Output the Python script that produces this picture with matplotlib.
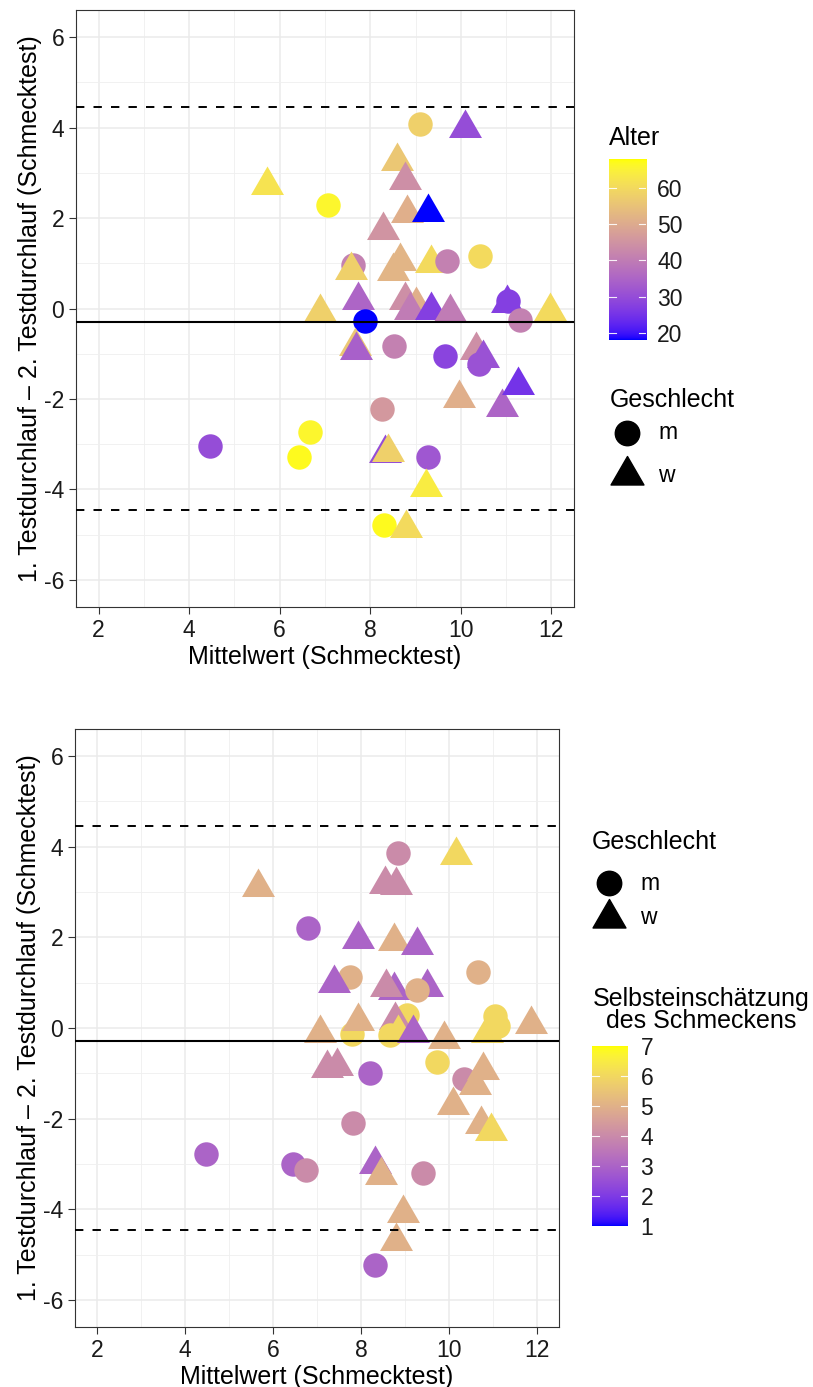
import numpy as np
import matplotlib
matplotlib.use("Agg")
import matplotlib.pyplot as plt
from matplotlib.colors import ListedColormap, Normalize
from matplotlib.markers import MarkerStyle
from matplotlib.path import Path
from matplotlib.lines import Line2D

plt.rcParams['font.family'] = ['Liberation Sans', 'DejaVu Sans']
plt.rcParams['axes.unicode_minus'] = False

# ---- data: panel 1 (Alter) ----
top_x = [7.07, 9.09, 5.72, 10.09, 8.60, 8.76, 8.82, 9.28, 8.29, 8.65, 8.51, 9.35,
         9.70, 10.42, 7.62, 7.58, 7.73, 6.90, 7.88, 8.76, 9.02, 8.87, 9.35, 9.76,
         11.03, 11.05, 11.30, 11.97, 7.66, 7.69, 8.53, 9.64, 10.34, 10.40, 10.50,
         9.95, 10.92, 11.26, 8.27, 6.66, 6.42, 4.45, 8.33, 8.39, 9.27, 9.23, 8.30, 8.78]
top_y = [2.28, 4.09, 2.72, 3.98, 3.27, 2.85, 2.11, 2.14, 1.74, 1.06, 0.82, 1.00,
         1.06, 1.17, 0.97, 0.85, 0.19, -0.07, -0.27, 0.19, 0.08, -0.03, -0.03, -0.07,
         0.12, 0.17, -0.26, -0.05, -0.84, -0.92, -0.84, -1.04, -0.92, -1.22, -1.10,
         -1.98, -2.17, -1.69, -2.22, -2.72, -3.29, -3.05, -3.20, -3.17, -3.29, -3.94, -4.78, -4.86]
top_age = [66, 58, 62, 30, 56, 44, 51, 18, 45, 52, 52, 60,
           41, 60, 41, 58, 35, 58, 18, 44, 51, 40, 27, 40,
           27, 27, 41, 60, 56, 34, 41, 28, 44, 31, 31,
           51, 35, 25, 46, 66, 67, 30, 30, 58, 32, 64, 67, 60]
top_sex = ['m', 'm', 'w', 'w', 'w', 'w', 'w', 'w', 'w', 'w', 'w', 'w',
           'm', 'm', 'm', 'w', 'w', 'w', 'm', 'w', 'w', 'w', 'w', 'w',
           'w', 'm', 'm', 'w', 'w', 'w', 'm', 'm', 'w', 'm', 'w',
           'w', 'w', 'w', 'm', 'm', 'm', 'm', 'w', 'w', 'm', 'w', 'm', 'w']

# ---- data: panel 2 (Selbsteinschaetzung) ----
bot_x = [5.67, 8.85, 8.55, 8.79, 10.16, 6.79, 7.94, 8.76, 9.27, 7.75, 7.38, 8.74,
         8.57, 9.50, 9.27, 10.67, 7.79, 7.07, 7.94, 9.04, 8.78, 8.66, 8.85, 9.19,
         9.88, 11.05, 11.12, 10.86, 11.86, 9.72, 7.22, 7.45, 8.21, 10.33, 10.77,
         10.60, 10.10, 10.73, 10.95, 7.82, 4.48, 6.45, 6.74, 8.32, 8.45, 9.41,
         8.96, 8.80, 8.32]
bot_y = [3.11, 3.87, 3.18, 3.15, 3.81, 2.20, 1.97, 1.92, 1.83, 1.12, 1.00, 0.84,
         0.90, 0.90, 0.84, 1.23, -0.13, -0.11, 0.16, 0.29, 0.17, -0.15, -0.12, -0.12,
         -0.25, 0.27, 0.05, -0.12, 0.08, -0.74, -0.89, -0.84, -1.00, -1.13, -0.92,
         -1.26, -1.69, -2.13, -2.27, -2.10, -2.78, -3.00, -3.14, -3.00, -3.24, -3.20,
         -4.09, -4.70, -5.23]
bot_rating = [5, 4, 4, 4, 6, 3, 3, 5, 3, 5, 3, 3,
              4, 3, 5, 5, 6, 5, 5, 6, 4, 6, 6, 3,
              5, 6, 6, 6, 5, 6, 4, 4, 3, 4, 5,
              5, 5, 5, 6, 4, 3, 3, 4, 3, 5, 4,
              5, 5, 3]
bot_sex = ['w', 'm', 'w', 'w', 'w', 'm', 'w', 'w', 'w', 'm', 'w', 'w',
           'w', 'w', 'm', 'm', 'm', 'w', 'w', 'm', 'w', 'm', 'w', 'w',
           'w', 'm', 'm', 'w', 'w', 'm', 'w', 'w', 'm', 'm', 'w',
           'w', 'w', 'w', 'w', 'm', 'm', 'm', 'm', 'w', 'w', 'm',
           'w', 'w', 'm']

mean_diff = -0.29
loa = [4.45, -4.45]


# blue -> yellow gradient interpolated in CIELAB (like ggplot's scale_colour_gradient)
def srgb_to_lab(c):
    c = np.asarray(c, float)
    lin = np.where(c <= 0.04045, c / 12.92, ((c + 0.055) / 1.055) ** 2.4)
    M = np.array([[0.4124, 0.3576, 0.1805], [0.2126, 0.7152, 0.0722], [0.0193, 0.1192, 0.9505]])
    xyz = M @ lin / np.array([0.95047, 1.0, 1.08883])
    f = np.where(xyz > 0.008856, np.cbrt(xyz), 7.787 * xyz + 16 / 116)
    return np.array([116 * f[1] - 16, 500 * (f[0] - f[1]), 200 * (f[1] - f[2])])


def lab_to_srgb(lab):
    L, a, b = lab
    fy = (L + 16) / 116
    fx = fy + a / 500
    fz = fy - b / 200
    f = np.array([fx, fy, fz])
    xyz = np.where(f ** 3 > 0.008856, f ** 3, (f - 16 / 116) / 7.787) * np.array([0.95047, 1.0, 1.08883])
    Mi = np.array([[3.2406, -1.5372, -0.4986], [-0.9689, 1.8758, 0.0415], [0.0557, -0.2040, 1.0570]])
    lin = Mi @ xyz
    c = np.where(lin <= 0.0031308, 12.92 * lin, 1.055 * np.clip(lin, 0, None) ** (1 / 2.4) - 0.055)
    return np.clip(c, 0, 1)


lab_lo = srgb_to_lab([0, 0, 1])
lab_hi = srgb_to_lab([1, 1, 0])
cmap = ListedColormap([lab_to_srgb(lab_lo + t * (lab_hi - lab_lo)) for t in np.linspace(0, 1, 256)])

# R-style triangle (pch 17), centred on its centroid
tri_path = Path([(0, 1.5551), (1.3468, -0.7776), (-1.3468, -0.7776), (0, 1.5551)],
                [Path.MOVETO, Path.LINETO, Path.LINETO, Path.CLOSEPOLY])
tri = MarkerStyle(tri_path)
CIRC_MS = 17.6
TRI_MS = CIRC_MS * 1.555
shapes = {'m': ('o', CIRC_MS ** 2), 'w': (tri, TRI_MS ** 2)}

W, H = 813, 1387
fig = plt.figure(figsize=(W / 100, H / 100), dpi=100)


def fx(px):
    return px / W


def fy(py):
    return 1 - py / H


def panel(rect, xs, ys, cs, sexes, norm):
    ax = fig.add_axes(rect)
    ax.set_xlim(1.5, 12.5)
    ax.set_ylim(-6.6, 6.6)
    ax.set_xticks(range(2, 13, 2))
    ax.set_yticks(range(-6, 7, 2))
    ax.set_xticks(range(3, 13, 2), minor=True)
    ax.set_yticks(range(-5, 7, 2), minor=True)
    ax.grid(which='major', color='#EBEBEB', lw=1.1, zorder=0)
    ax.grid(which='minor', color='#EFEFEF', lw=0.6, zorder=0)
    ax.set_axisbelow(True)
    ax.tick_params(which='minor', length=0)
    ax.tick_params(which='major', length=5, width=0.8, color='#333333',
                   labelsize=16.5, labelcolor='#1a1a1a', pad=3.5)
    for sp in ax.spines.values():
        sp.set_color('#333333')
        sp.set_linewidth(0.8)
    for i, (x, y, c, s) in enumerate(zip(xs, ys, cs, sexes)):
        m, size = shapes[s]
        ax.scatter([x], [y], c=[c], cmap=cmap, norm=norm, marker=m, s=size,
                   linewidths=0, zorder=3 + i * 0.01)
    ax.axhline(mean_diff, color='black', lw=1.5, zorder=4)
    for v in loa:
        ax.axhline(v, color='black', lw=1.4, dashes=(4.3, 4.7), zorder=4)
    ax.set_xlabel('Mittelwert (Schmecktest)', fontsize=18, labelpad=2)
    ax.set_ylabel('1. Testdurchlauf – 2. Testdurchlauf (Schmecktest)', fontsize=18, labelpad=1)
    return ax


norm_age = Normalize(18, 68)
norm_rating = Normalize(1, 7)

panel([fx(76), fy(607), fx(498), 597 / H], top_x, top_y, top_age, top_sex, norm_age)
panel([fx(75), fy(1327), fx(484), 598 / H], bot_x, bot_y, bot_rating, bot_sex, norm_rating)


def colorbar(rect, norm, ticks, pad):
    cax = fig.add_axes(rect)
    grad = np.linspace(norm.vmin, norm.vmax, 256).reshape(-1, 1)
    cax.imshow(grad, cmap=cmap, norm=norm, aspect='auto', origin='lower',
               extent=[0, 1, norm.vmin, norm.vmax])
    for t in ticks:
        if norm.vmin < t < norm.vmax:
            cax.plot([0, 0.2], [t, t], color='white', lw=0.8, alpha=0.9)
            cax.plot([0.8, 1], [t, t], color='white', lw=0.8, alpha=0.9)
    cax.set_xlim(0, 1)
    cax.set_ylim(norm.vmin, norm.vmax)
    cax.set_xticks([])
    cax.yaxis.tick_right()
    cax.set_yticks(ticks)
    cax.tick_params(axis='y', length=0, labelsize=16.5, pad=pad, labelcolor='#1a1a1a')
    for sp in cax.spines.values():
        sp.set_visible(False)
    return cax


def shape_legend(title_xy, circ_xy, tri_xy, text_x):
    fig.text(fx(title_xy[0]), fy(title_xy[1]), 'Geschlecht', fontsize=18, va='center', ha='left')
    fig.add_artist(Line2D([fx(circ_xy[0])], [fy(circ_xy[1])], marker='o', markersize=CIRC_MS,
                          color='black', lw=0, transform=fig.transFigure))
    fig.add_artist(Line2D([fx(tri_xy[0])], [fy(tri_xy[1])], marker=tri, markersize=TRI_MS,
                          color='black', lw=0, transform=fig.transFigure))
    fig.text(fx(text_x), fy(circ_xy[1]), 'm', fontsize=16.5, va='center', ha='left')
    fig.text(fx(text_x), fy(tri_xy[1]), 'w', fontsize=16.5, va='center', ha='left')


# legends, top panel
fig.text(fx(609), fy(138), 'Alter', fontsize=18, va='center', ha='left')
colorbar([fx(609), fy(340), 37 / W, 181 / H], norm_age, [20, 30, 40, 50, 60], 8)
shape_legend((610, 400), (627, 433), (627, 475), 658)

# legends, bottom panel
shape_legend((592, 842), (609, 883), (609, 918), 640)
fig.text(fx(701), fy(1010), 'Selbsteinschätzung\ndes Schmeckens', fontsize=18,
         va='center', ha='center', multialignment='center', linespacing=0.92)
colorbar([fx(592), fy(1226), 36 / W, 180 / H], norm_rating, [1, 2, 3, 4, 5, 6, 7], 9)

fig.savefig('out.png', dpi=100)
